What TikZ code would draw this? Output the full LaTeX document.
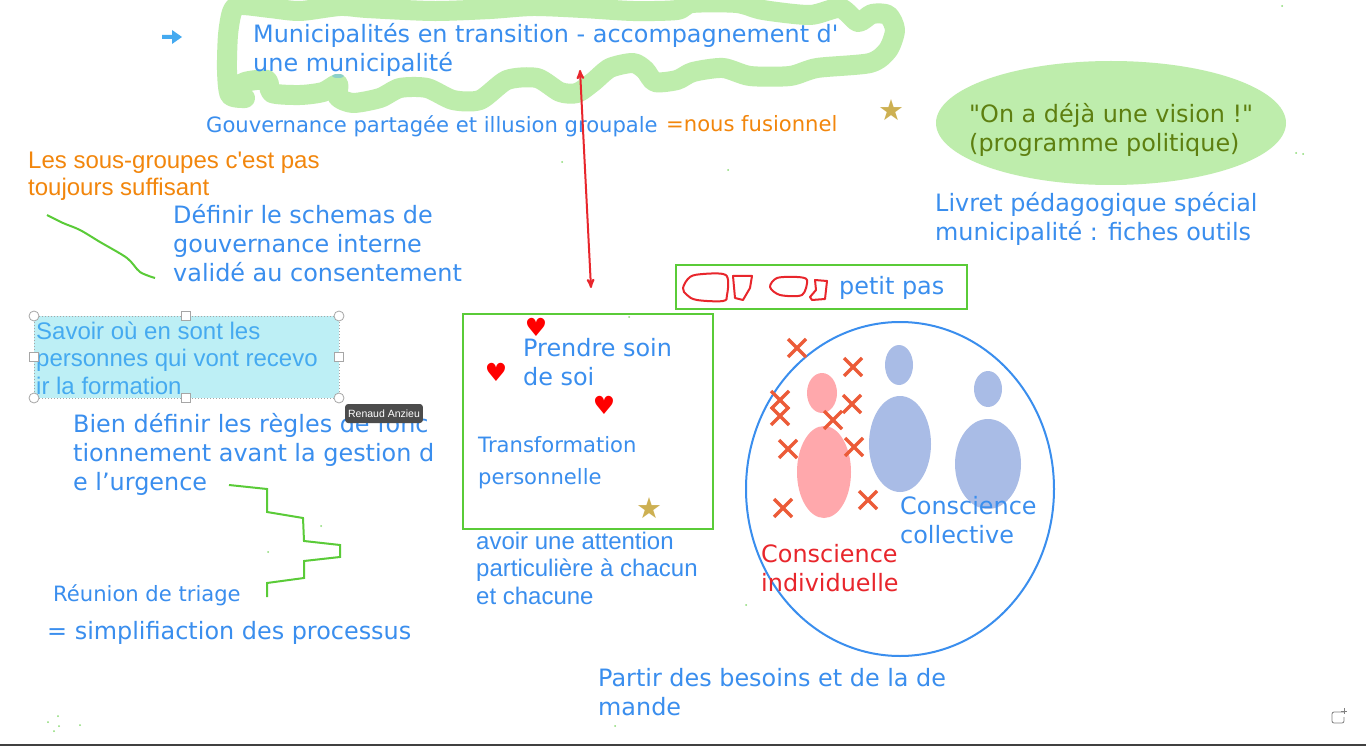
\documentclass[tikz,border=0pt]{standalone}
\usepackage{fontspec}
\newfontfamily\dejafont{DejaVu Sans}
\newfontfamily\arialfont{Liberation Sans}
\usetikzlibrary{arrows}
\definecolor{txtblue}{HTML}{3A8EEE}
\definecolor{skyblue}{HTML}{45AAF0}
\definecolor{padgreen}{HTML}{BEEDAC}
\definecolor{penred}{HTML}{E8262C}
\definecolor{boxgreen}{HTML}{5ACB38}
\definecolor{crossred}{HTML}{EC5B38}
\definecolor{pinkbody}{HTML}{FFA8AC}
\definecolor{bluebody}{HTML}{A9BCE6}
\definecolor{starcol}{HTML}{CDB052}
\definecolor{olivetxt}{HTML}{5E7F10}
\definecolor{orangetxt}{HTML}{F2860C}
\definecolor{selcyan}{HTML}{BDEFF5}
\tikzset{l/.style={anchor=west,inner sep=0pt,align=left,text=txtblue,font=\dejafont\fontsize{23.9}{29}\selectfont}}
\tikzset{m/.style={anchor=west,inner sep=0pt,align=left,text=txtblue,font=\dejafont\fontsize{21.1}{32}\selectfont}}
\tikzset{a/.style={anchor=west,inner sep=0pt,align=left,text=txtblue,font=\arialfont\fontsize{24}{27.5}\selectfont}}
\tikzset{pen/.style={draw=boxgreen,line width=2pt}}
\tikzset{redpen/.style={draw=penred,line width=2pt,line join=round}}
\tikzset{symb/.style={inner sep=0pt,font=\dejafont\fontsize{29}{29}\selectfont}}
\tikzset{handle/.style={draw=gray!70,fill=white,line width=0.8pt}}
\begin{document}
\begin{tikzpicture}[x=1pt,y=-1pt]
  \useasboundingbox (0,0) rectangle (1366,746);
  \fill[white] (0,0) rectangle (1366,746);
  \fill[black!75] (0,744) rectangle (1366,746);
  \draw[padgreen,line width=20pt,line join=round,line cap=round] plot[smooth,tension=0.45] coordinates {(245,98) (230,95) (227,70) (228,35) (232,12) (240,5) (270,8) (300,11) (340,6) (367,8) (433,11) (490,9) (533,6) (583,8) (633,11) (677,10) (692,3) (737,3) (763,10) (810,15) (840,8) (858,22) (872,14) (888,15) (895,30) (888,50) (870,63) (817,68) (790,76) (750,76) (723,68) (693,72) (677,80) (655,82) (645,70) (633,63) (610,68) (593,82) (577,93) (560,92) (537,78) (507,80) (480,100) (453,100) (427,88) (400,88) (380,98) (353,103) (338,97) (338,84) (323,92) (300,95) (272,93) (267,80) (245,82) (235,90) (245,98)};
  \fill[cyan!30!padgreen] (338,76) ellipse (6 and 2);
  \node[l] (municipalite) at (253,49.5) {Municipalités en transition - accompagnement d'\\une municipalité};
  \fill[skyblue] (162,35) -- (172,35) -- (172,30) -- (182,37) -- (172,44) -- (172,39) -- (162,39) -- cycle;
  \node[l,font=\dejafont\fontsize{21.1}{26}\selectfont] (gouvernance) at (206,126) {Gouvernance partagée et illusion groupale};
  \node[l,text=orangetxt,font=\dejafont\fontsize{21.1}{26}\selectfont] (fusionnel) at (666,123.5) {=nous fusionnel};
  \node[a,text=orangetxt] (sousgroupes) at (28,176) {Les sous-groupes c'est pas\\toujours suffisant};
  \node[l] (schemas) at (173,243) {Définir le schemas de\\gouvernance interne\\validé au consentement};
  \draw[pen] plot[smooth] coordinates {(47,215) (63,223) (80,230) (100,242) (127,258) (140,272) (155,278)};
  \fill[selcyan] (34,316) rectangle (339,398);
  \node[a,text=skyblue] (savoir) at (36,358) {Savoir où en sont les\\personnes qui vont recevo\\ir la formation};
  \draw[gray!70,line width=1pt,dotted] (34,316) rectangle (339,398);
  \foreach \x/\y in {34/316,339/316,34/398,339/398} \draw[handle] (\x,\y) circle (5);
  \foreach \x/\y in {186/316,186/398,34/357,339/357} \draw[handle] (\x-4.5,\y-4.5) rectangle (\x+4.5,\y+4.5);
  \node[l] (regles) at (73,454.5) {Bien définir les règles de fonc\\tionnement avant la gestion d\\e l’urgence};
  \node[anchor=center,fill=black!70,text=white,rounded corners=3pt,inner sep=3pt,minimum height=19pt,font=\arialfont\fontsize{10.5}{12}\selectfont] (tooltip) at (384,413.5) {Renaud Anzieu};
  \draw[pen] (229,485) -- (267,489) -- (267,512) -- (303,518) -- (304,541) -- (340,545) -- (340,557) -- (304,561) -- (304,578) -- (267,583) -- (267,597);
  \node[m,font=\dejafont\fontsize{21.1}{26}\selectfont] (triage) at (53,595) {Réunion de triage};
  \node[l] (processus) at (47,633) {= simplifiaction des processus};
  \draw[pen] (463,314) rectangle (713,529);
  \foreach \x/\y [count=\i] in {536/327,496/372,604/405} \node[symb,text=red,font=\dejafont\fontsize{25}{25}\selectfont] (coeur\i) at (\x,\y) {♥};
  \node[l] (soin) at (523,362) {Prendre soin\\de soi};
  \node[m] (transfo) at (478,463) {Transformation\\personnelle};
  \node[symb,text=starcol] (etoile1) at (649,508) {★};
  \node[a] (attention) at (476,568) {avoir une attention\\particulière à chacun\\et chacune};
  \draw[pen] (676,265) rectangle (967,309);
  \draw[redpen] plot[smooth cycle,tension=0.6] coordinates {(683,288) (690,277) (703,274) (723,274) (728,280) (727,295) (723,301) (697,300) (687,295)};
  \draw[redpen] (733,276) -- (752,276) -- (750,288) -- (743,300) -- (735,298) -- cycle;
  \draw[redpen] plot[smooth cycle,tension=0.5] coordinates {(770,287) (777,278) (797,277) (807,280) (802,295) (780,295)};
  \draw[redpen] (815,280) -- (827,281) -- (825,299) -- (812,300) -- (810,297) -- (816,290) -- cycle;
  \node[l] (petitpas) at (839,288) {petit pas};
  \draw[txtblue,line width=2pt] (900,489) ellipse (154 and 167);
  \fill[pinkbody] (822,393) ellipse (15 and 20);
  \fill[pinkbody] (824,472) ellipse (27 and 46);
  \fill[bluebody] (899,365) ellipse (14 and 20);
  \fill[bluebody] (900,444) ellipse (31 and 48);
  \fill[bluebody] (988,389) ellipse (14 and 18);
  \fill[bluebody] (988,464) ellipse (33 and 45);
  \foreach \x/\y in {797/348,853/367,780/400,780/416,852/404,833/420,788/449,854/447,868/500,783/508}
    \draw[crossred,line width=3.5pt] (\x-9,\y-9) -- (\x+9,\y+9) (\x-9,\y+9) -- (\x+9,\y-9);
  \node[l] (collective) at (900,520) {Conscience\\collective};
  \node[l,text=penred] (individuelle) at (761,568) {Conscience\\individuelle};
  \node[l] (besoins) at (598,692) {Partir des besoins et de la de\\mande};
  \fill[padgreen] (1111,123) ellipse (175 and 62);
  \node[l,text=olivetxt] (vision) at (969,130) {"On a déjà une vision !"\\(programme politique)};
  \node[symb,text=starcol] (etoile2) at (891,110) {★};
  \node[l] (livret) at (935,219) {Livret pédagogique spécial\\municipalité : fiches outils};
  \coordinate (flechehaut) at (580,70);
  \coordinate (flechebas) at (591,288);
  \draw[<->,>=stealth',penred,line width=2pt] (flechehaut) -- (flechebas);
  \draw[gray,line width=0.8pt,rounded corners=2pt] (1344,712) -- (1332,712) -- (1332,723) -- (1344,723) -- (1344,717);
  \draw[gray,line width=0.8pt] (1344,708) -- (1344,714) (1341,711) -- (1347,711);
  \foreach \x/\y in {1282/6,1296/153,1303/154,562/162,728/170,629/317,321/526,268/552,746/605,615/726,48/722,58/716,59/726,80/725,54/731}
    \fill[boxgreen!70] (\x,\y) circle (1);
\end{tikzpicture}
\end{document}
